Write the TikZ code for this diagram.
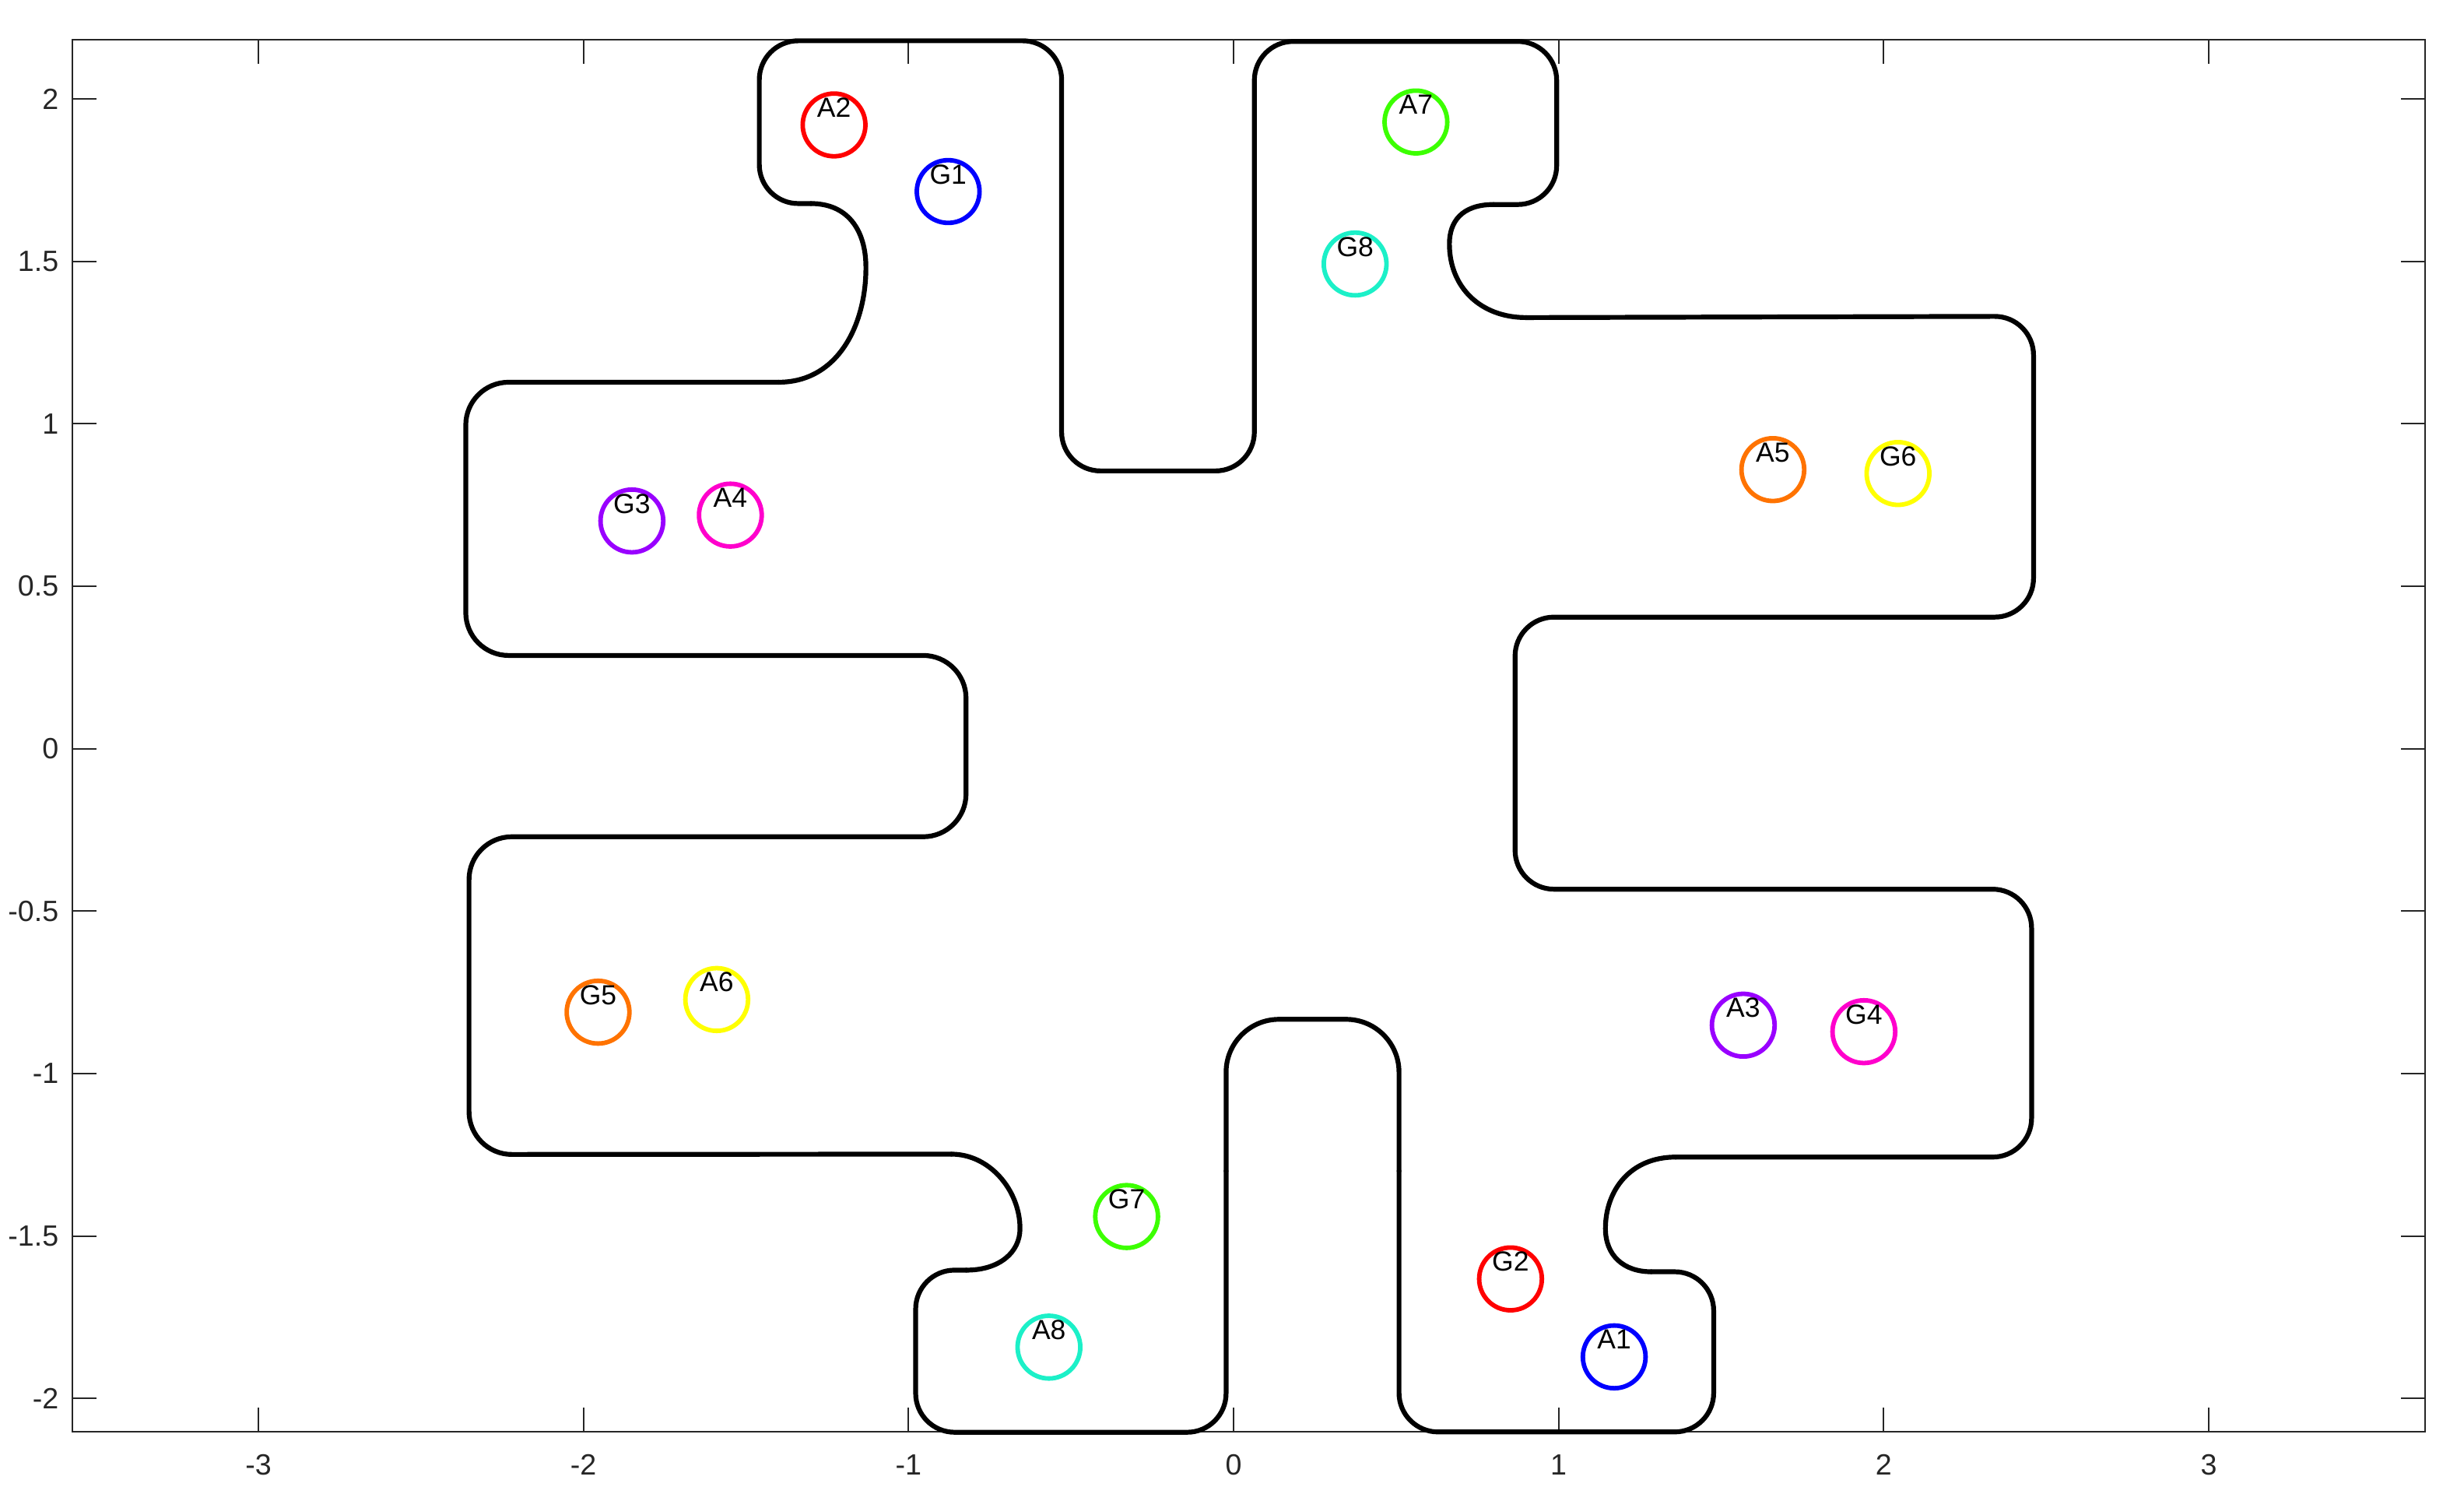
\documentclass[tikz,border=0pt]{standalone}
\usepackage{fontspec}
\setmainfont{Liberation Sans}
\definecolor{axgray}{HTML}{262626}
\definecolor{cred}{HTML}{FF0000}
\definecolor{cblue}{HTML}{0000FF}
\definecolor{cpurple}{HTML}{9900FF}
\definecolor{cmagenta}{HTML}{FF00CC}
\definecolor{corange}{HTML}{FF7300}
\definecolor{cyellow}{HTML}{FFFF00}
\definecolor{cgreen}{HTML}{3CFF00}
\definecolor{cteal}{HTML}{1CF0C8}
\newcommand\mkring[4]{%
  \node[ring,draw=#4] (#1) at (#2,#3) {};
  \node[lab] (#1l) at (#2,#3+0.053) {#1};}
\begin{document}
\begin{tikzpicture}[
  axisline/.style={draw=axgray, line width=0.02cm},
  ticklab/.style={text=axgray, font=\fontsize{10.7}{12}\selectfont, inner sep=0pt},
  outline/.style={draw=black, line width=0.062cm, line cap=round, line join=round},
  ring/.style={circle, line width=0.058cm, minimum size=0.806cm, inner sep=0pt},
  lab/.style={font=\fontsize{10.1}{12}\selectfont, inner sep=0pt, text=black},
]
\useasboundingbox (0,0) rectangle (31.66,19.28);
\fill[white] (0,0) rectangle (31.66,19.28);
\begin{scope}[shift={(15.85cm,9.663cm)}, x=4.1767cm, y=4.173cm]
  % axes box
  \draw[axisline] (-3.573,-2.102) rectangle (3.666,2.182);
  \foreach \t [count=\i] in {-3,-2,-1,0,1,2,3} {
    \draw[axisline] (\t,-2.102) -- (\t,-2.028);
    \draw[axisline] (\t,2.182) -- (\t,2.108);
    \node[ticklab] (xl\i) at (\t,-2.205) {\t};
  }
  \foreach \t [count=\i] in {-2,-1.5,-1,-0.5,0,0.5,1,1.5,2} {
    \draw[axisline] (-3.573,\t) -- (-3.499,\t);
    \draw[axisline] (3.666,\t) -- (3.592,\t);
    \node[ticklab, anchor=east] (yl\i) at (-3.613,\t) {\t};
  }
  % outline
  \draw[outline, rounded corners=0.5cm] (-1.30,1.678) -- (-1.459,1.678) -- (-1.459,2.179) -- (-0.529,2.179) -- (-0.529,0.855) -- (0.064,0.855) -- (0.064,2.177) -- (0.994,2.177) -- (0.994,1.675) -- (0.80,1.675);
  \draw[outline] (0.80,1.675) .. controls (0.70,1.675) and (0.664,1.62) .. (0.664,1.554) .. controls (0.664,1.42) and (0.76,1.327) .. (0.90,1.327);
  \draw[outline, rounded corners=0.5cm] (0.90,1.327) -- (2.461,1.331) -- (2.461,0.405) -- (0.866,0.405) -- (0.866,-0.4325) -- (2.455,-0.4325) -- (2.455,-1.257) -- (1.36,-1.257);
  \draw[outline] (1.36,-1.257) .. controls (1.22,-1.257) and (1.144,-1.36) .. (1.144,-1.477) .. controls (1.144,-1.56) and (1.20,-1.61) .. (1.285,-1.61);
  \draw[outline, rounded corners=0.5cm] (1.285,-1.61) -- (1.477,-1.61) -- (1.477,-2.103) -- (0.509,-2.103) -- (0.509,-1.3);
  \draw[outline, rounded corners=0.68cm] (0.509,-1.3) -- (0.509,-0.833) -- (-0.023,-0.833) -- (-0.023,-1.3);
  \draw[outline, rounded corners=0.5cm] (-0.023,-1.3) -- (-0.023,-2.104) -- (-0.978,-2.104) -- (-0.978,-1.605) -- (-0.822,-1.605);
  \draw[outline] (-0.822,-1.605) .. controls (-0.72,-1.605) and (-0.657,-1.55) .. (-0.657,-1.477) .. controls (-0.657,-1.36) and (-0.75,-1.248) .. (-0.868,-1.248);
  \draw[outline, rounded corners=0.55cm] (-0.868,-1.248) -- (-2.352,-1.249) -- (-2.352,-0.271) -- (-0.823,-0.271) -- (-0.823,0.287) -- (-2.362,0.287) -- (-2.362,1.128) -- (-1.40,1.128);
  \draw[outline] (-1.40,1.128) .. controls (-1.22,1.128) and (-1.131,1.30) .. (-1.131,1.481) .. controls (-1.131,1.60) and (-1.19,1.678) .. (-1.30,1.678);
  % markers
  \mkring{A1}{1.171}{-1.872}{cblue}
  \mkring{G1}{-0.878}{1.715}{cblue}
  \mkring{A2}{-1.229}{1.920}{cred}
  \mkring{G2}{0.852}{-1.632}{cred}
  \mkring{A3}{1.568}{-0.851}{cpurple}
  \mkring{G3}{-1.851}{0.701}{cpurple}
  \mkring{A4}{-1.548}{0.719}{cmagenta}
  \mkring{G4}{1.939}{-0.871}{cmagenta}
  \mkring{A5}{1.659}{0.859}{corange}
  \mkring{G5}{-1.955}{-0.811}{corange}
  \mkring{A6}{-1.590}{-0.772}{cyellow}
  \mkring{G6}{2.044}{0.847}{cyellow}
  \mkring{A7}{0.561}{1.929}{cgreen}
  \mkring{G7}{-0.329}{-1.440}{cgreen}
  \mkring{A8}{-0.568}{-1.842}{cteal}
  \mkring{G8}{0.374}{1.492}{cteal}
\end{scope}
\end{tikzpicture}
\end{document}
